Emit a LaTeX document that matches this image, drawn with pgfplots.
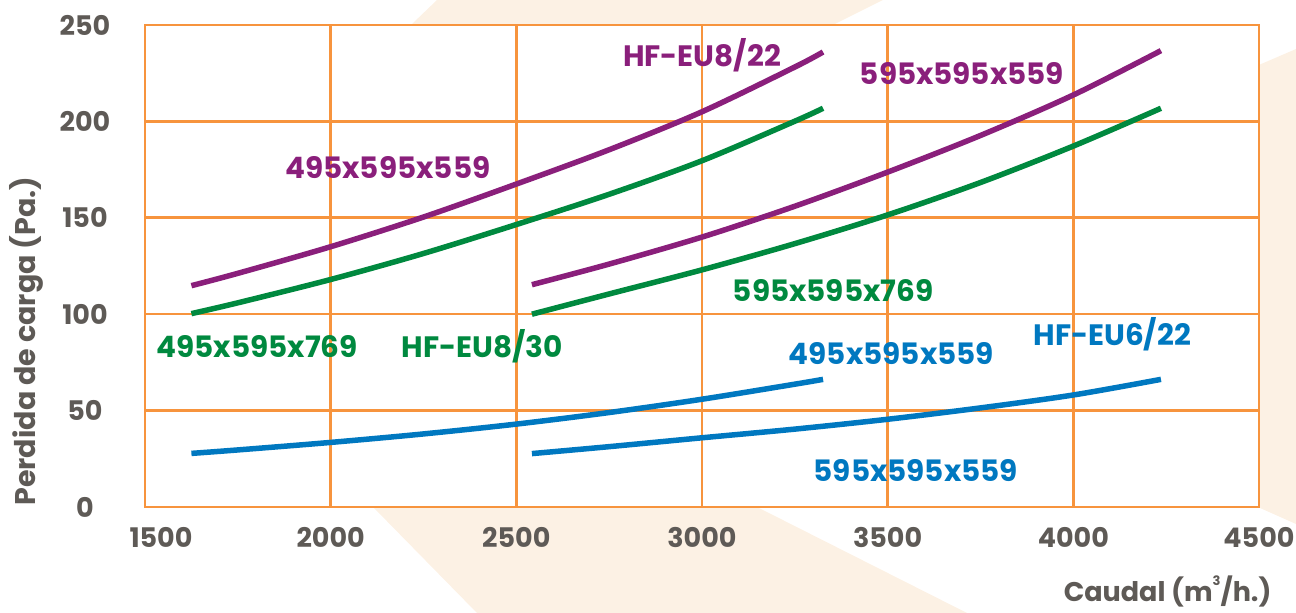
\documentclass[border=0pt]{standalone}
\usepackage{fontspec}
\setmainfont{Poppins}
\usepackage{pgfplots}
\pgfplotsset{compat=1.18}
\definecolor{gridor}{HTML}{F7943D}
\definecolor{txtgray}{HTML}{5E5A56}
\definecolor{cpurple}{HTML}{8A1F7B}
\definecolor{cgreen}{HTML}{00893F}
\definecolor{cblue}{HTML}{0078C0}
\definecolor{wmark}{HTML}{FCF1E4}
\begin{document}
\begin{tikzpicture}[x=1pt,y=1pt]
% decorative watermark behind the plot
\fill[wmark] (292,507) -- (738,507) -- (690,483) -- (555,357) -- (755,127) -- (612,0) -- (822,-106) -- (332,-106) -- (229,-1) -- (105,257) -- (267,483) -- cycle;
\fill[wmark] (1115,442.5) -- (1151,458) -- (1151,-17) -- (1115,-1) -- (955,207) -- cycle;
\begin{axis}[
  at={(0,0)}, anchor=south west,
  scale only axis, width=1114pt, height=482pt,
  xmin=1500, xmax=4500, ymin=0, ymax=250,
  xtick={1500,2000,...,4500},
  xticklabels={\hspace*{32pt}1500,2000,2500,3000,3500,4000,4500},
  ytick={0,50,...,250},
  grid=major,
  grid style={gridor, line width=2.6pt},
  axis line style={gridor, line width=2.6pt},
  tick style={draw=none},
  axis background/.style={fill=white},
  tick label style={font=\fontsize{27}{27}\selectfont\bfseries, text=txtgray},
  /pgf/number format/assume math mode=true,
  yticklabel style={anchor=center, xshift=-60pt},
  xticklabel style={anchor=center, yshift=-30pt},
  ylabel={Perdida de carga (Pa.)},
  xlabel={Caudal (m\raisebox{0.62em}{\fontsize{13}{13}\selectfont 3}/h.)},
  every axis y label/.style={at={(axis description cs:-0.1068,0.344)}, rotate=90, anchor=center, font=\fontsize{28.5}{28.5}\selectfont\bfseries, text=txtgray},
  every axis x label/.style={at={(axis description cs:0.918,-0.197)}, anchor=base, font=\fontsize{27}{27}\selectfont\bfseries, text=txtgray},
  every axis plot/.append style={line width=5.5pt, smooth, no markers},
]
% HF-EU8/22
\addplot[cpurple] coordinates {(1625,114.8) (1750,121.2) (2000,135) (2250,150.4) (2500,167.5) (2750,185.3) (3000,205) (3250,228.2) (3326,236)};
\addplot[cpurple] coordinates {(2542,115.3) (2750,126) (3000,140) (3250,156) (3500,173.7) (3750,192.7) (4000,213.7) (4236,236.7)};
% HF-EU8/30
\addplot[cgreen] coordinates {(1625,100.3) (1750,105.9) (2000,118) (2250,131.5) (2500,146.5) (2750,162.2) (3000,179.6) (3250,200.1) (3326,206.8)};
\addplot[cgreen] coordinates {(2542,100) (2750,110.5) (3000,123) (3250,136.6) (3500,151.5) (3750,168.3) (4000,187.2) (4236,206.8)};
% HF-EU6/22
\addplot[cblue] coordinates {(1625,27.8) (1750,29.6) (2000,33.5) (2250,37.9) (2500,43) (2750,49) (3000,55.9) (3250,63.7) (3326,66.2)};
\addplot[cblue] coordinates {(2542,27.7) (2750,31.3) (3000,35.9) (3250,40.4) (3500,45.5) (3750,51.4) (4000,58.1) (4236,66.2)};
% labels
\begin{scope}[every node/.style={font=\fontsize{29.5}{29.5}\selectfont\bfseries, anchor=center, inner sep=0pt}]
\node[text=cpurple] at (axis cs:3000,234.4) {HF-EU8/22};
\node[text=cpurple] at (axis cs:3700,225) {595x595x559};
\node[text=cpurple] at (axis cs:2154,176) {495x595x559};
\node[text=cgreen] at (axis cs:3353,112.3) {595x595x769};
\node[text=cgreen] at (axis cs:1802,83) {495x595x769};
\node[text=cgreen] at (axis cs:2408,83.2) {HF-EU8/30};
\node[text=cblue] at (axis cs:3510,79.4) {495x595x559};
\node[text=cblue] at (axis cs:4105,89.7) {HF-EU6/22};
\node[text=cblue] at (axis cs:3576,18.7) {595x595x559};
\end{scope}
\end{axis}
\pgfresetboundingbox
\path (-145,-106) rectangle (1151,507);
\end{tikzpicture}
\end{document}
